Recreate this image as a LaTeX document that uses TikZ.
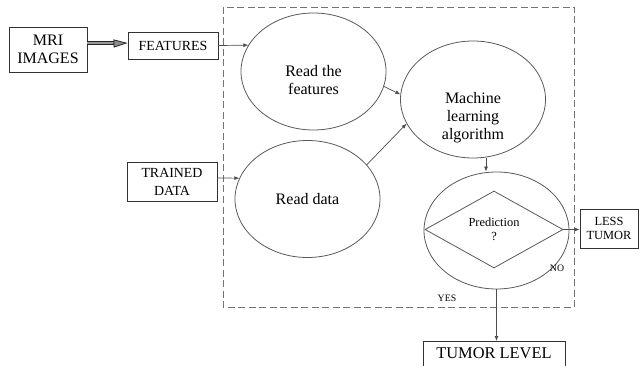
\documentclass[tikz,border=0pt]{standalone}
\usepackage{fontspec}
\setmainfont{Liberation Serif}
\usetikzlibrary{shapes.geometric,arrows.meta}
\begin{document}
\begin{tikzpicture}[x=1pt, y=-1pt,
    box/.style = {draw=black!80, line width=0.8pt, rectangle, inner sep=0pt, align=center},
    oval/.style = {draw=black!65, line width=0.8pt, ellipse, minimum width=145pt, minimum height=117pt, inner sep=0pt},
    big/.style = {font=\fontsize{16}{18}\selectfont},
    mid/.style = {font=\fontsize{13.9}{18}\selectfont},
    small/.style = {font=\fontsize{12.4}{13.8}\selectfont},
    tiny/.style = {font=\fontsize{9.8}{11}\selectfont},
    link/.style = {draw=black!70, line width=0.7pt, -{Latex[length=5pt,width=4pt]}}]

            \useasboundingbox (0,0) rectangle (642,366);
            \clip (0,0) rectangle (642,366);

            % frame round the processing steps
            \draw[black!55, line width=0.8pt, dash pattern=on 7pt off 3.5pt] (223,7) rectangle (574,307);

            \node[box, big, minimum width=78pt, minimum height=45pt] (mri) at (48, 49.5) {MRI\\IMAGES};
            \node[box, mid, minimum width=90pt, minimum height=27pt] (feat) at (173, 45.5) {FEATURES};
            \node[box, mid, minimum width=90pt, minimum height=39pt] (td) at (172, 181.5) {TRAINED\\DATA};
            \node[box, small, minimum width=58pt, minimum height=39pt] (less) at (609, 228.5) {LESS\\TUMOR};
            \node[box, font=\fontsize{16.4}{18}\selectfont, minimum width=142pt, text height=17.4pt, text depth=22pt, anchor=north] (level) at (494, 341) {TUMOR LEVEL};

            \node[oval, label={[big, align=center, yshift=-8.5pt]center:Read the\\features}] (rf) at (313.5, 71.5) {};
            \node[oval, label={[big, align=center]center:Read data}] (rd) at (307.5, 199) {};
            \node[oval, label={[big, align=center, yshift=-18pt]center:Machine\\learning\\algorithm}] (ml) at (473, 99.5) {};
            \node[oval] (pred) at (496.5, 230.5) {};
            \node[draw=black!65, line width=0.8pt, diamond, minimum width=138pt, minimum height=77pt, inner sep=0pt, align=center, small] (dia) at (494, 229.5) {Prediction\\?};

            \node[tiny] (yes) at (447, 298) {YES};
            \node[tiny] (no) at (557, 268) {NO};

            \draw[double=black!40, double distance=2pt, line width=1pt, draw=black!85] ([yshift=6pt]mri.east) -- ([yshift=6pt, xshift=27pt]mri.east);
            \draw[black!85, line width=0.8pt, -{Triangle[length=14pt,width=8pt,fill=black!45]}] ([yshift=6pt, xshift=26pt]mri.east) -- ([yshift=2.5pt]feat.west);
            \draw[link] (feat.east) -- (rf.158);
            \draw[link] ([yshift=3.5pt]td.east) -- (rd.163);
            \draw[link] (rf.-12) -- (ml.176);
            \draw[link] (rd.30.5) -- (ml.200);
            \draw[link] ([xshift=13pt]ml.south) -- ([xshift=13pt]ml.south |- pred.north);
            \draw[link] (dia.east) -- (less.west |- dia.east);
            \draw[link] (pred.south) -- (pred.south |- level.north);
        \end{tikzpicture}
\end{document}
